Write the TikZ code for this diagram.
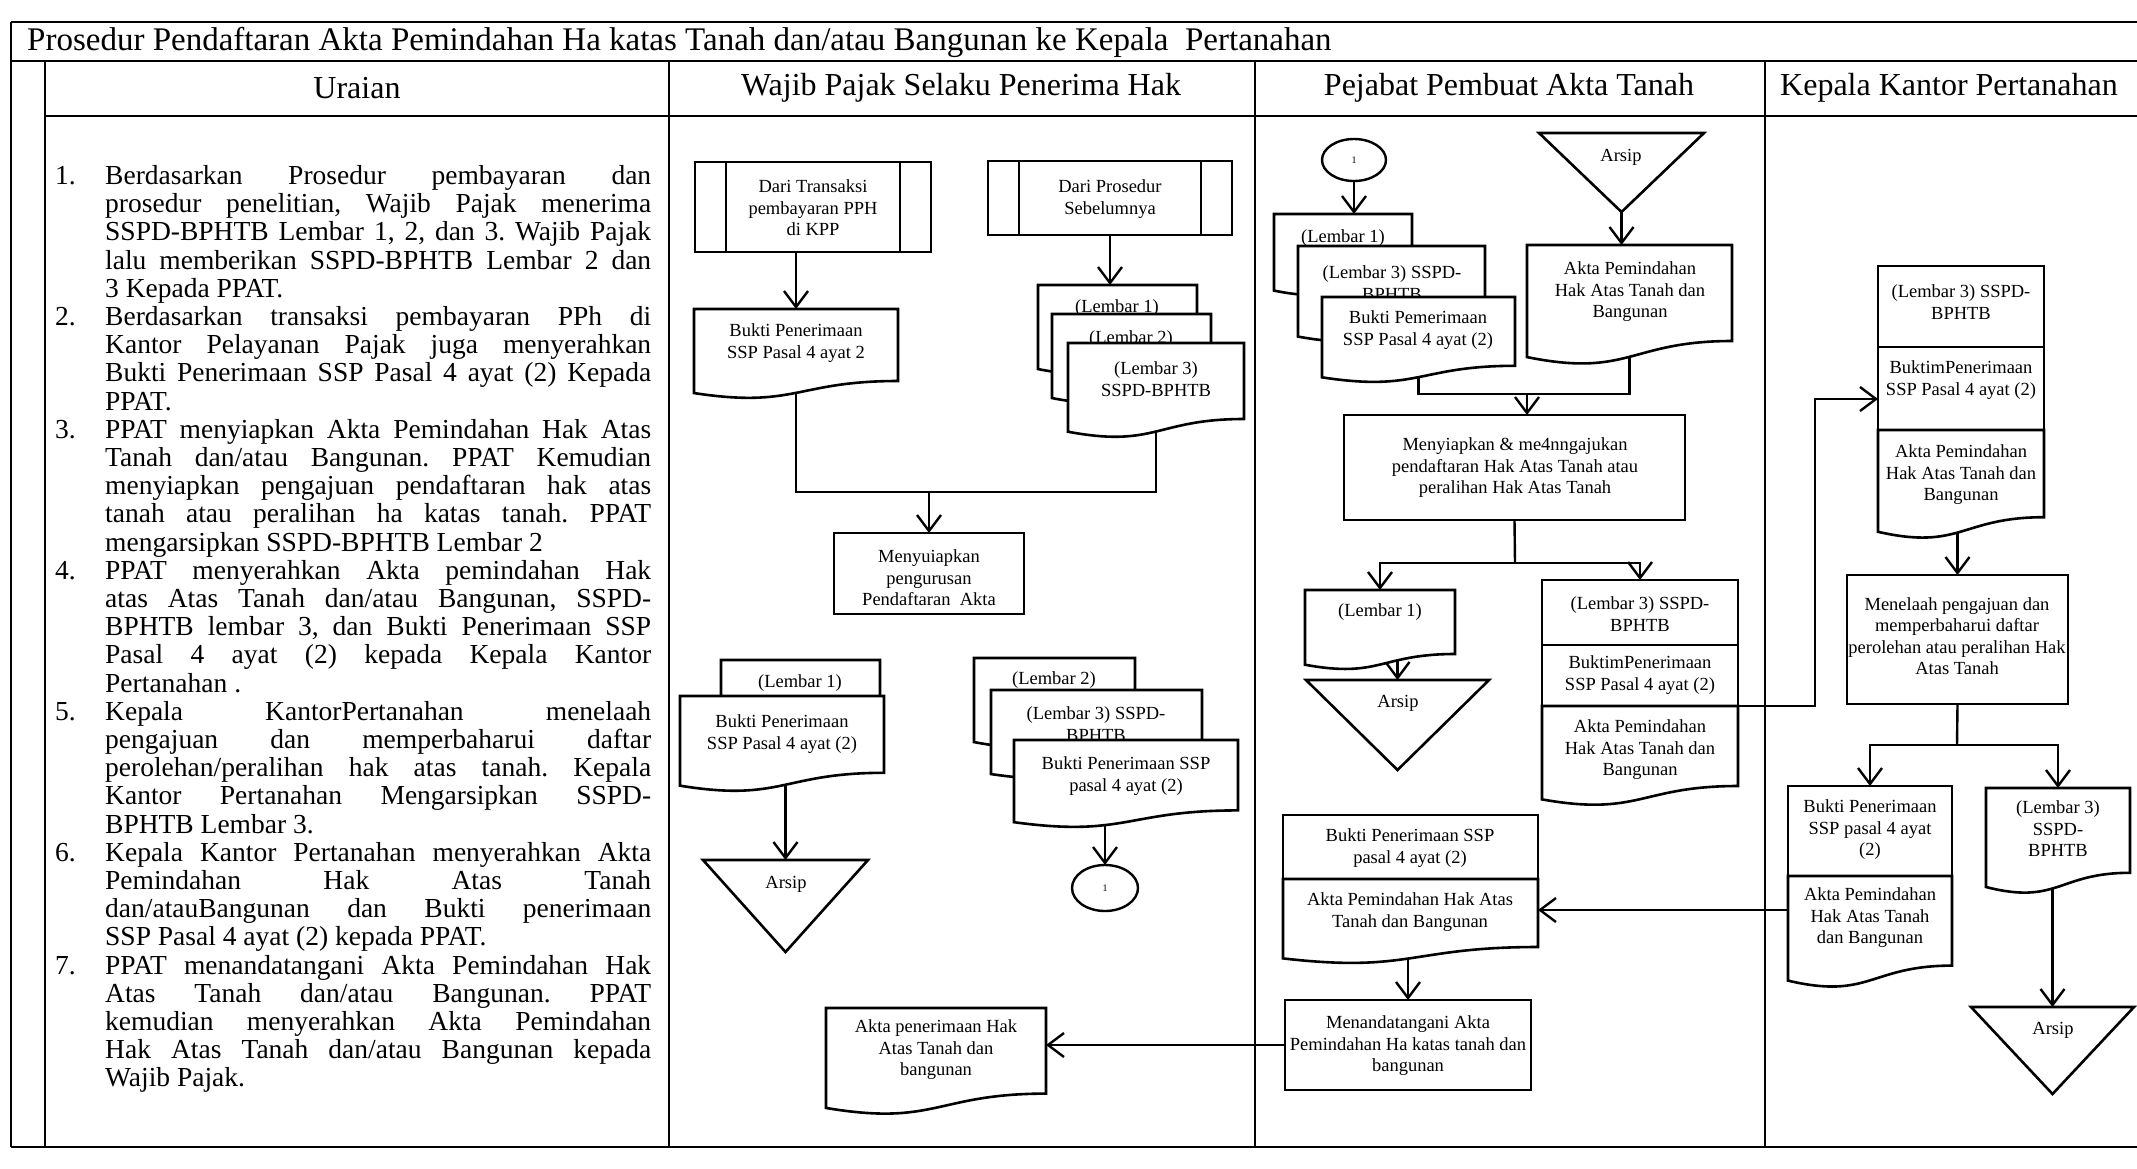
\documentclass[tikz,border=0pt]{standalone}
\usepackage{fontspec}
\setmainfont{Liberation Serif}
\usepackage{tikz}
\usetikzlibrary{arrows.meta}
\usetikzlibrary{shapes.geometric}
\pgfdeclarelayer{nodelayer}
\pgfdeclarelayer{edgelayer}
\pgfsetlayers{edgelayer,nodelayer,main}
\hbadness=10000
\frenchspacing

\makeatletter
% document symbol: flat top, wavy bottom
\pgfdeclareshape{docshape}{
    \inheritsavedanchors[from=rectangle]
    \inheritanchorborder[from=rectangle]
    \inheritanchor[from=rectangle]{center}
    \inheritanchor[from=rectangle]{north}
    \inheritanchor[from=rectangle]{south}
    \inheritanchor[from=rectangle]{east}
    \inheritanchor[from=rectangle]{west}
    \inheritanchor[from=rectangle]{north east}
    \inheritanchor[from=rectangle]{north west}
    \inheritanchor[from=rectangle]{south east}
    \inheritanchor[from=rectangle]{south west}
    \backgroundpath{
        \southwest \edef\docxa{\the\pgf@x}\edef\docya{\the\pgf@y}
        \northeast \edef\docxb{\the\pgf@x}\edef\docyb{\the\pgf@y}
        \pgf@xc=\docxa \advance\pgf@xc by \docxb \pgf@xc=.5\pgf@xc
        \pgf@yc=\docyb \advance\pgf@yc by -\docya
        \pgfutil@tempdima=\docya \advance\pgfutil@tempdima by .2\pgf@yc
        \pgfutil@tempdimb=\docya \advance\pgfutil@tempdimb by -.107\pgf@yc
        \pgf@yc=.066\pgf@yc \advance\pgf@yc by \docya
        \edef\docxm{\the\pgf@xc}\edef\docyr{\the\pgfutil@tempdima}
        \edef\docyc{\the\pgfutil@tempdimb}\edef\docyl{\the\pgf@yc}
        \pgfpathmoveto{\pgfpoint{\docxa}{\docyb}}
        \pgfpathlineto{\pgfpoint{\docxb}{\docyb}}
        \pgfpathlineto{\pgfpoint{\docxb}{\docyr}}
        \pgfpathcurveto{\pgfpoint{\docxm}{\docyr}}{\pgfpoint{\docxm}{\docyc}}{\pgfpoint{\docxa}{\docyl}}
        \pgfpathclose
    }
}
% archive symbol: triangle pointing down
\pgfdeclareshape{arsipshape}{
    \inheritsavedanchors[from=rectangle]
    \inheritanchorborder[from=rectangle]
    \inheritanchor[from=rectangle]{center}
    \inheritanchor[from=rectangle]{north}
    \inheritanchor[from=rectangle]{south}
    \inheritanchor[from=rectangle]{east}
    \inheritanchor[from=rectangle]{west}
    \inheritanchor[from=rectangle]{north east}
    \inheritanchor[from=rectangle]{north west}
    \inheritanchor[from=rectangle]{south east}
    \inheritanchor[from=rectangle]{south west}
    \backgroundpath{
        \southwest \edef\docxa{\the\pgf@x}\edef\docya{\the\pgf@y}
        \northeast \edef\docxb{\the\pgf@x}\edef\docyb{\the\pgf@y}
        \pgf@xc=\docxa \advance\pgf@xc by \docxb \pgf@xc=.5\pgf@xc
        \edef\docxm{\the\pgf@xc}
        \pgfpathmoveto{\pgfpoint{\docxa}{\docyb}}
        \pgfpathlineto{\pgfpoint{\docxb}{\docyb}}
        \pgfpathlineto{\pgfpoint{\docxm}{\docya}}
        \pgfpathclose
    }
}
\makeatother

\tikzset{
    none/.style = {inner sep=0pt},
    sz/.style 2 args = {minimum width=#1pt, minimum height=#2pt},
    txt/.style = {inner sep=0pt, align=center, font=\fontsize{18.5}{21.5}\selectfont},
    head/.style = {inner sep=0pt, font=\fontsize{32}{36}\selectfont},
    box/.style = {draw, line width=2.6pt, fill=white, inner sep=0pt, outer sep=0pt, anchor=north west},
    doc/.style = {box, shape=docshape},
    arsip/.style = {box, shape=arsipshape},
    predef/.style = {box, path picture={
        \draw [line width=2.6pt] ([xshift=31pt]path picture bounding box.north west) to ([xshift=31pt]path picture bounding box.south west);
        \draw [line width=2.6pt] ([xshift=-31pt]path picture bounding box.north east) to ([xshift=-31pt]path picture bounding box.south east);
    }},
    conn/.style = {draw, ellipse, line width=2.4pt, fill=white, inner sep=0pt, outer sep=0pt, font=\fontsize{10}{12}\selectfont},
    flow/.style = {line width=2.4pt},
    arr/.style = {flow, -{Straight Barb[length=16pt, width=24pt]}},
    tabline/.style = {line width=1.8pt}
}

\begin{document}
\begin{tikzpicture}[x=1pt, y=-1pt]
    \useasboundingbox (0, 0) rectangle (2137, 1168);
    \begin{pgfonlayer}{nodelayer}
        \node [style=none, anchor=west, font=\fontsize{33}{36}\selectfont] (0) at (27, 42) {Prosedur Pendaftaran Akta Pemindahan Ha katas Tanah dan/atau Bangunan ke Kepala~ Pertanahan};
        \node [style=head] (1) at (357, 88) {Uraian};
        \node [style=head] (2) at (961, 88) {Wajib Pajak Selaku Penerima Hak};
        \node [style=head] (3) at (1509, 88) {Pejabat Pembuat Akta Tanah};
        \node [style=head] (4) at (1949, 88) {Kepala Kantor Pertanahan};
        \node [style=none, anchor=north west, text width=596pt, align=justify, font=\fontsize{27.5}{28.2}\selectfont] (5) at (55, 156) {%
            \begin{list}{\arabic{enumi}.}{\usecounter{enumi}\setlength{\leftmargin}{50pt}\setlength{\labelwidth}{50pt}\setlength{\labelsep}{0pt}\setlength{\itemsep}{0pt}\setlength{\parsep}{0pt}\setlength{\topsep}{0pt}\setlength{\partopsep}{0pt}\renewcommand{\makelabel}[1]{#1\hfil}}
            \item Berdasarkan Prosedur pembayaran dan\linebreak prosedur penelitian, Wajib Pajak menerima\linebreak SSPD-BPHTB Lembar 1, 2, dan 3. Wajib Pajak\linebreak lalu memberikan SSPD-BPHTB Lembar 2 dan\linebreak 3 Kepada PPAT.
            \item Berdasarkan transaksi pembayaran PPh di\linebreak Kantor Pelayanan Pajak juga menyerahkan\linebreak Bukti Penerimaan SSP Pasal 4 ayat (2) Kepada\linebreak PPAT.
            \item PPAT menyiapkan Akta Pemindahan Hak Atas\linebreak Tanah dan/atau Bangunan. PPAT Kemudian\linebreak menyiapkan pengajuan pendaftaran hak atas\linebreak tanah atau peralihan ha katas tanah. PPAT\linebreak mengarsipkan SSPD-BPHTB Lembar 2
            \item PPAT menyerahkan Akta pemindahan Hak\linebreak atas Atas Tanah dan/atau Bangunan, SSPD-\linebreak BPHTB lembar 3, dan Bukti Penerimaan SSP\linebreak Pasal 4 ayat (2) kepada Kepala Kantor\linebreak Pertanahan .
            \item Kepala KantorPertanahan menelaah\linebreak pengajuan dan memperbaharui daftar\linebreak perolehan/peralihan hak atas tanah. Kepala\linebreak Kantor Pertanahan Mengarsipkan SSPD-\linebreak BPHTB Lembar 3.
            \item Kepala Kantor Pertanahan menyerahkan Akta\linebreak Pemindahan Hak Atas Tanah\linebreak dan/atauBangunan dan Bukti penerimaan\linebreak SSP Pasal 4 ayat (2) kepada PPAT.
            \item PPAT menandatangani Akta Pemindahan Hak\linebreak Atas Tanah dan/atau Bangunan. PPAT\linebreak kemudian menyerahkan Akta Pemindahan\linebreak Hak Atas Tanah dan/atau Bangunan kepada\linebreak Wajib Pajak.
            \end{list}};
        \node [style=predef, sz={236}{90}] (10) at (695, 162) {};
        \node [style=txt] (11) at (813, 208) {Dari Transaksi\\pembayaran PPH\\di KPP};
        \node [style=predef, sz={244}{74}] (12) at (988, 161) {};
        \node [style=txt] (13) at (1110, 199) {Dari Prosedur\\Sebelumnya};
        \node [style=doc, sz={204}{90}] (14) at (694, 309) {};
        \node [style=txt] (15) at (796, 343) {Bukti Penerimaan\\SSP Pasal 4 ayat 2};
        \node [style=doc, sz={159}{90}] (16) at (1038, 285) {};
        \node [style=txt] (17) at (1117, 308) {(Lembar 1)};
        \node [style=doc, sz={159}{90}] (18) at (1052, 314) {};
        \node [style=txt] (19) at (1131, 339) {(Lembar 2)};
        \node [style=doc, sz={176}{95}] (20) at (1068, 343) {};
        \node [style=txt] (21) at (1156, 379) {(Lembar 3)\\SSPD-BPHTB};
        \node [style=none] (22) at (929, 492) {};
        \node [style=box, sz={190}{81}] (23) at (834, 533) {};
        \node [style=txt] (24) at (929, 578) {Menyuiapkan\\pengurusan\\Pendaftaran~ Akta};
        \node [style=doc, sz={159}{90}] (25) at (721, 660) {};
        \node [style=txt] (26) at (800, 683) {(Lembar 1)};
        \node [style=doc, sz={204}{96}] (27) at (680, 696) {};
        \node [style=txt] (28) at (782, 734) {Bukti Penerimaan\\SSP Pasal 4 ayat (2)};
        \node [style=arsip, sz={165}{92}] (29) at (703, 860) {};
        \node [style=txt] (30) at (786, 884) {Arsip};
        \node [style=doc, sz={161}{90}] (31) at (974, 658) {};
        \node [style=txt] (32) at (1054, 680) {(Lembar 2)};
        \node [style=doc, sz={211}{90}] (33) at (991, 690) {};
        \node [style=txt] (34) at (1096, 724) {(Lembar 3) SSPD-\\BPHTB};
        \node [style=doc, sz={224}{88}] (35) at (1014, 740) {};
        \node [style=txt] (36) at (1126, 776) {Bukti Penerimaan SSP\\pasal 4 ayat (2)};
        \node [style=conn, sz={66}{46}] (37) at (1105, 888) {1};
        \node [style=doc, sz={220}{107}] (38) at (826, 1008) {};
        \node [style=txt] (39) at (936, 1050) {Akta penerimaan Hak\\Atas Tanah dan\\bangunan};
        \node [style=conn, sz={64}{42}] (40) at (1354, 160) {1};
        \node [style=arsip, sz={165}{79}] (41) at (1539, 133) {};
        \node [style=txt] (42) at (1621, 157) {Arsip};
        \node [style=doc, sz={138}{82}] (43) at (1274, 214) {};
        \node [style=txt] (44) at (1343, 238) {(Lembar 1)};
        \node [style=doc, sz={187}{97}] (45) at (1298, 246) {};
        \node [style=txt] (46) at (1392, 283) {(Lembar 3) SSPD-\\BPHTB};
        \node [style=doc, sz={193}{86}] (47) at (1322, 297) {};
        \node [style=txt] (48) at (1418, 330) {Bukti Pemerimaan\\SSP Pasal 4 ayat (2)};
        \node [style=doc, sz={205}{120}] (49) at (1527, 245) {};
        \node [style=txt] (50) at (1630, 292) {Akta Pemindahan\\Hak Atas Tanah dan\\Bangunan};
        \node [style=none] (51) at (1527, 394) {};
        \node [style=box, sz={341}{105}] (52) at (1344, 415) {};
        \node [style=txt] (53) at (1515, 468) {Menyiapkan \& me4nngajukan\\pendaftaran Hak Atas Tanah atau\\peralihan Hak Atas Tanah};
        \node [style=none] (54) at (1515, 563) {};
        \node [style=doc, sz={150}{80}] (55) at (1305, 590) {};
        \node [style=txt] (56) at (1380, 612) {(Lembar 1)};
        \node [style=arsip, sz={183}{90}] (57) at (1306, 680) {};
        \node [style=txt] (58) at (1398, 703) {Arsip};
        \node [style=box, sz={196}{65}] (59) at (1542, 580) {};
        \node [style=txt] (60) at (1640, 614) {(Lembar 3) SSPD-\\BPHTB};
        \node [style=box, sz={196}{61}] (61) at (1542, 645) {};
        \node [style=txt] (62) at (1640, 675) {BuktimPenerimaan\\SSP Pasal 4 ayat (2)};
        \node [style=doc, sz={196}{100}] (63) at (1542, 706) {};
        \node [style=txt] (64) at (1640, 750) {Akta Pemindahan\\Hak Atas Tanah dan\\Bangunan};
        \node [style=box, sz={255}{64}] (65) at (1283, 815) {};
        \node [style=txt] (66) at (1410, 848) {Bukti Penerimaan SSP\\pasal 4 ayat (2)};
        \node [style=doc, sz={255}{85}] (67) at (1283, 879) {};
        \node [style=txt] (68) at (1410, 912) {Akta Pemindahan Hak Atas\\Tanah dan Bangunan};
        \node [style=box, sz={246}{90}] (69) at (1285, 1000) {};
        \node [style=txt] (70) at (1408, 1046) {Menandatangani Akta\\Pemindahan Ha katas tanah dan\\bangunan};
        \node [style=none] (71) at (1815, 399) {};
        \node [style=box, sz={166}{81}] (72) at (1878, 266) {};
        \node [style=txt] (73) at (1961, 302) {(Lembar 3) SSPD-\\BPHTB};
        \node [style=box, sz={166}{83}] (74) at (1878, 347) {};
        \node [style=txt] (75) at (1961, 380) {BuktimPenerimaan\\SSP Pasal 4 ayat (2)};
        \node [style=doc, sz={166}{109}] (76) at (1878, 430) {};
        \node [style=txt] (77) at (1961, 475) {Akta Pemindahan\\Hak Atas Tanah dan\\Bangunan};
        \node [style=box, sz={221}{129}] (78) at (1847, 575) {};
        \node [style=txt] (79) at (1957, 636) {Menelaah pengajuan dan\\memperbaharui daftar\\perolehan atau peralihan Hak\\Atas Tanah};
        \node [style=none] (80) at (1957, 745) {};
        \node [style=box, sz={164}{90}] (81) at (1788, 786) {};
        \node [style=txt] (82) at (1870, 830) {Bukti Penerimaan\\SSP pasal 4 ayat\\(2)};
        \node [style=doc, sz={164}{112}] (83) at (1788, 876) {};
        \node [style=txt] (84) at (1870, 918) {Akta Pemindahan\\Hak Atas Tanah\\dan Bangunan};
        \node [style=doc, sz={144}{106}] (85) at (1986, 788) {};
        \node [style=txt] (86) at (2058, 829) {(Lembar 3)\\SSPD-\\BPHTB};
        \node [style=arsip, sz={163}{87}] (87) at (1971, 1007) {};
        \node [style=txt] (88) at (2053, 1030) {Arsip};
    \end{pgfonlayer}
    \begin{pgfonlayer}{edgelayer}
        \fill [white] (0, 0) rectangle (2137, 1168);
        \draw [style=tabline] (11, 22) to (2137, 22);
        \draw [style=tabline] (11, 61) to (2137, 61);
        \draw [style=tabline] (45, 116) to (2137, 116);
        \draw [style=tabline] (11, 1147) to (2137, 1147);
        \draw [style=tabline] (11, 22) to (11, 1147);
        \draw [style=tabline] (45, 61) to (45, 1147);
        \draw [style=tabline] (669, 61) to (669, 1147);
        \draw [style=tabline] (1255, 61) to (1255, 1147);
        \draw [style=tabline] (1765, 61) to (1765, 1147);
        % lines start at shape centres, the white fills hide the inner part
        \draw [style=arr] (10.south -| 14.north) to (14.north);
        \draw [style=arr] (12.south) to (12.south |- 16.north);
        \draw [style=flow] (14.center) |- (22.center) -| (20.center);
        \draw [style=arr] (22.center) to (22.center |- 23.north);
        \draw [style=arr] (27.center -| 29.north) to (29.north);
        \draw [style=arr] (35.center -| 37.north) to (37.north);
        \draw [style=arr] (69.west) to (69.west -| 38.east);
        \draw [style=arr] (40.south) to (40.south |- 43.north);
        \draw [style=arr] (41.south) to (41.south |- 49.north);
        \draw [style=flow] (47.center) |- (51.center) -| (49.center);
        \draw [style=arr] (51.center) to (51.center |- 52.north);
        \draw [style=flow] (52.south) to (54.center);
        \draw [style=arr] (54.center) -| (55.north);
        \draw [style=arr] (54.center) -| (59.north);
        \draw [style=arr] (55.center -| 57.north) to (57.north);
        \draw [style=arr] (63.north east) -| (71.center) to (71.center -| 74.west);
        \draw [style=arr] (67.center -| 69.north) to (69.north);
        \draw [style=arr] (76.center -| 78.north) to (78.north);
        \draw [style=flow] (78.south) to (80.center);
        \draw [style=arr] (80.center) -| (81.north);
        \draw [style=arr] (80.center) -| (85.north);
        \draw [style=arr] (85.center -| 87.north) to (87.north);
        \draw [style=arr] ([yshift=22pt]83.west) to ([yshift=22pt]83.west -| 67.east);
    \end{pgfonlayer}
\end{tikzpicture}
\end{document}
